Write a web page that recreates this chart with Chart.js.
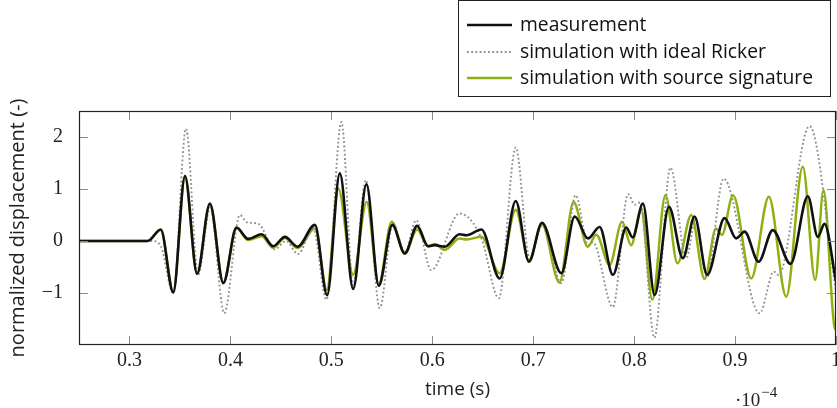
<!DOCTYPE html>
<html>
<head>
<meta charset="utf-8">
<script src="https://cdn.jsdelivr.net/npm/chart.js@4.4.0/dist/chart.umd.min.js"></script>
<style>
  html, body { margin: 0; padding: 0; background: #ffffff; }
  #wrap { width: 837px; height: 408px; position: relative; }
</style>
</head>
<body>
<div id="wrap"><canvas id="c" width="837" height="408"></canvas></div>
<script>
// time axis in units of 1e-4 s
const xTicks = [0.3, 0.4, 0.5, 0.6, 0.7, 0.8, 0.9, 1.0];
const yTicks = [-1, 0, 1, 2];

// measured trace (turning points)
const measT = [0.25, 0.318, 0.331, 0.3434, 0.355, 0.367, 0.3797, 0.393, 0.406, 0.4176, 0.431, 0.4424, 0.454, 0.4665,
  0.4837, 0.4958, 0.5084, 0.5216, 0.5348, 0.547, 0.5604, 0.5728, 0.585, 0.5958, 0.6025, 0.6124, 0.627, 0.634, 0.6487,
  0.6668, 0.6827, 0.6958, 0.7087, 0.7279, 0.7411, 0.7543, 0.7658, 0.779, 0.7922, 0.7985, 0.8087, 0.8203, 0.8345,
  0.8483, 0.8599, 0.8724, 0.8896, 0.9011, 0.9094, 0.9233, 0.9374, 0.955, 0.9721, 0.982, 0.9886, 1.0];
const measV = [0, 0, 0.22, -0.99, 1.25, -0.63, 0.72, -0.81, 0.26, 0.04, 0.13, -0.10, 0.08, -0.11,
  0.31, -1.04, 1.30, -0.92, 1.09, -0.86, 0.31, -0.24, 0.29, -0.10, -0.08, -0.11, 0.13, 0.11, 0.22,
  -0.72, 0.77, -0.40, 0.35, -0.62, 0.47, 0.05, 0.27, -0.65, 0.26, 0.07, 0.72, -1.04, 0.66,
  -0.33, 0.47, -0.65, 0.44, 0.05, 0.18, -0.40, 0.21, -0.44, 0.86, 0.08, 0.33, -0.78];

// simulation driven by an ideal Ricker wavelet
const rickT = [0.25, 0.322, 0.331, 0.3434, 0.356, 0.368, 0.380, 0.3939, 0.4094, 0.4163, 0.4278, 0.444, 0.455, 0.467,
  0.482, 0.4952, 0.510, 0.5216, 0.5342, 0.548, 0.561, 0.573, 0.584, 0.599, 0.627, 0.6487, 0.666, 0.6827, 0.6965,
  0.709, 0.728, 0.742, 0.7545, 0.759, 0.779, 0.794, 0.8005, 0.806, 0.820, 0.836, 0.8516, 0.861, 0.872, 0.8886,
  0.9243, 0.9385, 0.943, 0.9738, 1.0];
const rickV = [0, 0, -0.10, -1.0, 2.16, -0.65, 0.65, -1.39, 0.50, 0.36, 0.33, -0.16, 0.0, -0.25,
  0.24, -1.13, 2.29, -0.85, 1.17, -1.29, 0.34, -0.22, 0.40, -0.56, 0.53, 0.05, -1.10, 1.80, -0.33,
  0.30, -0.81, 0.88, -0.08, -0.02, -1.27, 0.90, 0.70, 0.74, -1.86, 1.41, -0.33, 0.42, -0.70, 1.20,
  -1.39, -0.59, -0.65, 2.21, -0.97];

// simulation driven by the recorded source signature
const sigT = [0.25, 0.318, 0.331, 0.3434, 0.355, 0.367, 0.3797, 0.393, 0.406, 0.4176, 0.431, 0.4424, 0.454, 0.4665,
  0.4837, 0.4955, 0.5068, 0.5216, 0.535, 0.547, 0.5598, 0.5728, 0.585, 0.5958, 0.6025, 0.6124, 0.627, 0.634, 0.6487,
  0.6668, 0.6827, 0.6958, 0.7087, 0.726, 0.740, 0.754, 0.7625, 0.7757, 0.788, 0.797, 0.807, 0.818, 0.831, 0.843,
  0.8566, 0.8698, 0.881, 0.887, 0.898, 0.916, 0.9335, 0.9507, 0.9671, 0.9794, 0.9876, 0.9988, 1.0];
const sigV = [0, 0, 0.21, -0.97, 1.22, -0.62, 0.70, -0.80, 0.25, 0.02, 0.09, -0.13, 0.06, -0.14,
  0.24, -0.94, 1.01, -0.65, 0.75, -0.83, 0.37, -0.24, 0.22, -0.10, -0.06, -0.17, 0.05, 0.03, 0.08,
  -0.62, 0.60, -0.37, 0.32, -0.80, 0.75, -0.11, 0.12, -0.46, 0.37, -0.08, 0.60, -1.13, 0.88, -0.43,
  0.50, -0.73, 0.24, 0.12, 0.88, -0.72, 0.85, -1.07, 1.43, -0.75, 0.98, -1.68, -1.70];

const pts = (t, v) => t.map((x, i) => ({ x: x, y: v[i] }));
const fmtX = v => (v === 1 ? '1' : v.toFixed(1));
const fmtY = v => (v < 0 ? '\u2212' + Math.abs(v) : String(v));

const SANS = '"Open Sans", "DejaVu Sans", sans-serif';
const SERIF = '"Liberation Serif", "DejaVu Serif", serif';

// frame, inward ticks on all four sides, boxed legend and the axis multiplier
const decorations = {
  id: 'decorations',
  afterDatasetsDraw(chart) {
    const { ctx, chartArea: a, scales } = chart;
    ctx.save();
    // inward tick marks
    ctx.strokeStyle = '#8a8a8a';
    ctx.lineWidth = 1;
    const tl = 9;
    ctx.beginPath();
    xTicks.forEach(v => {
      const px = Math.round(scales.x.getPixelForValue(v)) + 0.5;
      ctx.moveTo(px, a.bottom); ctx.lineTo(px, a.bottom - tl);
      ctx.moveTo(px, a.top); ctx.lineTo(px, a.top + tl);
    });
    yTicks.forEach(v => {
      const py = Math.round(scales.y.getPixelForValue(v)) + 0.5;
      ctx.moveTo(a.left, py); ctx.lineTo(a.left + tl, py);
      ctx.moveTo(a.right, py); ctx.lineTo(a.right - tl, py);
    });
    ctx.stroke();
    // frame
    ctx.strokeStyle = '#222';
    ctx.lineWidth = 1.2;
    ctx.strokeRect(a.left + 0.5, a.top + 0.5, a.right - a.left - 1, a.bottom - a.top - 1);

    // legend box
    const bx = 458.5, by = 0.5, bw = 372, bh = 96;
    ctx.fillStyle = '#fff';
    ctx.fillRect(bx, by, bw, bh);
    ctx.strokeStyle = '#222';
    ctx.lineWidth = 1;
    ctx.strokeRect(bx, by, bw, bh);
    const rows = [25, 52, 78];
    chart.data.datasets.forEach((ds, i) => {
      const y = rows[i];
      ctx.beginPath();
      ctx.strokeStyle = ds.borderColor;
      ctx.lineWidth = ds.borderWidth;
      ctx.setLineDash(ds.borderDash || []);
      ctx.moveTo(467, y); ctx.lineTo(512, y);
      ctx.stroke();
      ctx.setLineDash([]);
      ctx.fillStyle = '#111';
      ctx.font = '19.3px ' + SANS;
      ctx.textBaseline = 'middle';
      ctx.textAlign = 'left';
      ctx.fillText(ds.label, 520, y + 1);
    });

    // multiplier of the time axis
    ctx.fillStyle = '#222';
    ctx.textBaseline = 'alphabetic';
    ctx.font = '19px ' + SERIF;
    const base = '\u00b710';
    ctx.fillText(base, 735, 406);
    const w = ctx.measureText(base).width;
    ctx.font = '15px ' + SERIF;
    ctx.fillText('\u22124', 735 + w + 1, 397);
    ctx.restore();
  }
};

new Chart(document.getElementById('c'), {
  type: 'line',
  data: {
    datasets: [
      { label: 'measurement', data: pts(measT, measV), borderColor: '#111111', borderWidth: 2.6 },
      { label: 'simulation with ideal Ricker', data: pts(rickT, rickV), borderColor: '#8f8f8f', borderWidth: 1.9, borderDash: [1.8, 2.4] },
      { label: 'simulation with source signature', data: pts(sigT, sigV), borderColor: '#8db20f', borderWidth: 2.5 }
    ].map(d => Object.assign(d, { pointRadius: 0, fill: false, cubicInterpolationMode: 'monotone' }))
  },
  options: {
    responsive: false,
    animation: false,
    devicePixelRatio: 1,
    layout: { padding: { top: 111, right: 1, left: 0, bottom: 0 } },
    plugins: { legend: { display: false }, tooltip: { enabled: false } },
    scales: {
      x: {
        type: 'linear', min: 0.25, max: 1,
        afterBuildTicks: s => { s.ticks = xTicks.map(v => ({ value: v })); },
        afterFit: s => { s.height = 63; },
        grid: { display: false }, border: { display: false },
        ticks: { font: { family: SERIF, size: 20 }, color: '#222', padding: -4, maxRotation: 0, autoSkip: false, callback: v => fmtX(v) },
        title: { display: true, text: 'time (s)', font: { family: SANS, size: 19 }, color: '#222', padding: { top: 0, bottom: 7 } }
      },
      y: {
        type: 'linear', min: -2, max: 2.5,
        afterBuildTicks: s => { s.ticks = yTicks.map(v => ({ value: v })); },
        afterFit: s => { s.width = 79; },
        grid: { display: false }, border: { display: false },
        ticks: { font: { family: SERIF, size: 20 }, color: '#222', padding: 8, autoSkip: false, callback: v => fmtY(v) },
        title: { display: true, text: 'normalized displacement (-)', font: { family: SANS, size: 20 }, color: '#222', padding: { top: 6, bottom: 0 } }
      }
    }
  },
  plugins: [decorations]
});
</script>
</body>
</html>
